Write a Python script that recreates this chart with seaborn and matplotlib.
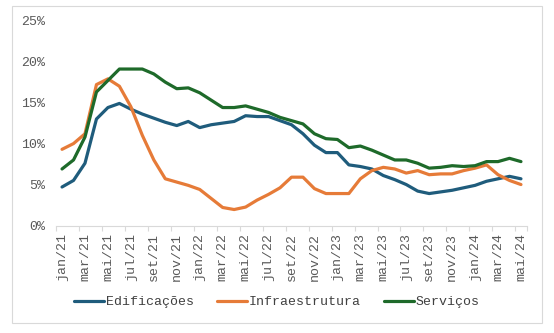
import matplotlib
matplotlib.use("Agg")
import matplotlib.pyplot as plt
import seaborn as sns
import pandas as pd
import numpy as np
from matplotlib.patches import Rectangle
from matplotlib.ticker import FixedLocator, FuncFormatter

months_pt = ["jan", "fev", "mar", "abr", "mai", "jun", "jul", "ago", "set", "out", "nov", "dez"]
periods = [f"{months_pt[m]}/{y}" for y in (21, 22, 23, 24) for m in range(12)][:41]

edificacoes = [4.7, 5.5, 7.6, 13.0, 14.4, 14.9, 14.2, 13.6, 13.1, 12.6, 12.2, 12.7, 11.95, 12.3,
               12.5, 12.7, 13.4, 13.3, 13.3, 12.8, 12.3, 11.2, 9.8, 8.9, 8.9, 7.4, 7.2, 6.9,
               6.1, 5.6, 5.0, 4.2, 3.9, 4.1, 4.3, 4.6, 4.9, 5.4, 5.7, 6.0, 5.7]
infraestrutura = [9.3, 10.0, 11.2, 17.2, 17.9, 17.0, 14.5, 11.0, 8.0, 5.7, 5.3, 4.9, 4.4, 3.3,
                  2.2, 1.95, 2.25, 3.1, 3.8, 4.6, 5.9, 5.9, 4.5, 3.9, 3.9, 3.9, 5.7, 6.7,
                  7.1, 6.9, 6.4, 6.7, 6.2, 6.3, 6.3, 6.7, 7.0, 7.4, 6.2, 5.5, 5.0]
servicos = [6.9, 8.0, 10.8, 16.3, 17.7, 19.1, 19.1, 19.1, 18.5, 17.5, 16.7, 16.8, 16.2, 15.3,
            14.4, 14.4, 14.6, 14.2, 13.8, 13.2, 12.8, 12.4, 11.2, 10.6, 10.5, 9.5, 9.7, 9.2,
            8.6, 8.0, 8.0, 7.6, 7.0, 7.1, 7.3, 7.2, 7.3, 7.8, 7.8, 8.2, 7.8]

series_names = ["Edificações", "Infraestrutura", "Serviços"]
colors = ["#1f5c7c", "#e67b38", "#1e6a2a"]
y_ticks = [0, 5, 10, 15, 20, 25]

idx = np.arange(len(periods))
df = pd.concat([
    pd.DataFrame({"idx": idx, "valor": np.array(vals) / 100.0, "serie": name})
    for name, vals in zip(series_names, [edificacoes, infraestrutura, servicos])
])

sns.set_theme(style="white")
plt.rcParams["font.family"] = ["Liberation Mono", "DejaVu Sans Mono"]

fig = plt.figure(figsize=(5.54, 3.33), dpi=100)
ax = fig.add_axes([56.3 / 554, 1 - 225.5 / 333, (526.7 - 56.3) / 554, (225.5 - 20.7) / 333])

sns.lineplot(data=df, x="idx", y="valor", hue="serie", hue_order=series_names,
             palette=colors, linewidth=2.3, ax=ax, legend=True)

ax.set_xlim(-0.5, len(periods) - 0.5)
ax.set_ylim(0, 0.25)
ax.set_xlabel("")
ax.set_ylabel("")

ax.set_yticks([v / 100 for v in y_ticks])
ax.yaxis.set_major_formatter(FuncFormatter(lambda v, p: f"{v * 100:.0f}%"))
ax.tick_params(axis="y", length=0, pad=8, labelsize=9.5, labelcolor="#595959")

label_pos = list(range(0, len(periods), 2))
ax.set_xticks(label_pos)
ax.set_xticklabels([periods[i] for i in label_pos], rotation=90, va="top")
ax.tick_params(axis="x", which="major", length=0, pad=5.5, labelsize=9.5, labelcolor="#595959")
ax.xaxis.set_minor_locator(FixedLocator(list(np.arange(-0.5, len(periods), 2.0)) + [len(periods) - 0.5]))
ax.tick_params(axis="x", which="minor", length=3.5, color="#d9d9d9", width=0.8, direction="out", bottom=True)

for s in ["top", "right", "left"]:
    ax.spines[s].set_visible(False)
ax.spines["bottom"].set_color("#d9d9d9")
ax.spines["bottom"].set_linewidth(0.8)
ax.grid(False)

handles, labels = ax.get_legend_handles_labels()
ax.legend(handles, labels, loc="center", bbox_to_anchor=(0.5, 1 - 302 / 333),
          bbox_transform=fig.transFigure, ncol=3, frameon=False,
          fontsize=9.5, handlelength=2.3, handletextpad=0.15, columnspacing=1.7,
          labelcolor="#404040")

fig.patches.append(Rectangle((12 / 554, 1 - 323 / 333), 530 / 554, 317 / 333,
                             transform=fig.transFigure, fill=False,
                             edgecolor="#d9d9d9", linewidth=0.8))

fig.savefig("out.png", dpi=100, facecolor="white")
